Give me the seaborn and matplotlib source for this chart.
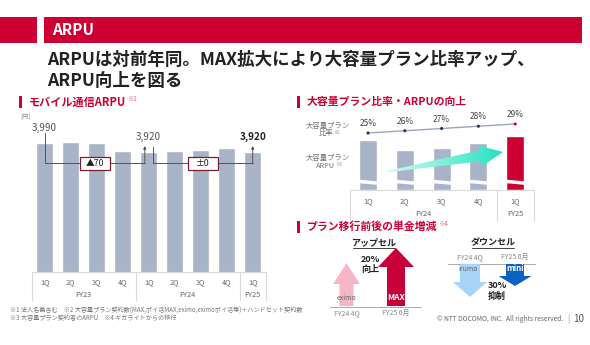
import numpy as np
import pandas as pd
import matplotlib
matplotlib.use("Agg")
import matplotlib.pyplot as plt
import seaborn as sns
from matplotlib.patches import Polygon, Rectangle
from matplotlib.colors import LinearSegmentedColormap

# ---------------- data ----------------
left_quarters = ["1Q", "2Q", "3Q", "4Q", "1Q", "2Q", "3Q", "4Q", "1Q"]
left_years = ["FY23", "FY23", "FY23", "FY23", "FY24", "FY24", "FY24", "FY24", "FY25"]
left_arpu = [3990, 4000, 3990, 3930, 3920, 3930, 3940, 3950, 3920]
left_labelled = [0, 4, 8]
left_diffs = ["▲70", "±0"]

right_quarters = ["1Q", "2Q", "3Q", "4Q", "1Q"]
right_years = ["FY24", "FY24", "FY24", "FY24", "FY25"]
plan_arpu_rel = [50, 40, 42, 47, 54]      # truncated-axis heights (relative)
plan_ratio = [25, 26, 27, 28, 29]         # %

upsell_periods = ["FY24 4Q", "FY25 6月"]
upsell_plans = ["eximo", "MAX"]
upsell_len = [43, 58]
downsell_periods = ["FY24 4Q", "FY25 6月"]
downsell_plans = ["irumo", "mini"]
downsell_len = [33, 22]

footnote1 = "※1 法人名義含む　※2 大容量プラン契約数(MAX,ポイ活MAX,eximo,eximoポイ活等)＋ハンドセット契約数"
footnote2 = "※3 大容量プラン契約者のARPU　※4 ギガライトからの移行"

# ---------------- style ----------------
sns.set_theme(style="white")
plt.rcParams["font.family"] = ["Noto Sans CJK JP", "DejaVu Sans"]

RED = "#cc0033"
SUPRED = "#e0607a"
BAR = "#aab4c8"
LINE = "#9aa6bf"
DARK = "#222222"
GRAY = "#666666"
SEP = "#d9d9d9"

W, H = 590, 345
fig = plt.figure(figsize=(W / 100, H / 100), dpi=100)


def px_axes(x0, y0, x1, y1):
    return fig.add_axes([x0 / W, 1 - y1 / H, (x1 - x0) / W, (y1 - y0) / H])


bg = px_axes(0, 0, W, H)
bg.set_xlim(0, W)
bg.set_ylim(H, 0)
bg.axis("off")


def T(x, y, s, size, color=DARK, weight="normal", ha="center", va="center", ax=None, **kw):
    ax = ax or bg
    kw.setdefault("zorder", 6)
    return ax.text(x, y, s, fontsize=size, color=color, fontweight=weight, ha=ha, va=va, **kw)


renderer = fig.canvas.get_renderer()


def sup_after(t, s, size, color, dy=-3, dx=0.0):
    bb = t.get_window_extent(renderer=renderer)
    x = bb.x1 + dx
    y = H - (bb.y1 + bb.y0) / 2 + dy
    return T(x, y, s, size, color, ha="left")


# ---------------- header ----------------
bg.add_patch(Rectangle((0, 17), 37, 26, color=RED, lw=0))
bg.add_patch(Rectangle((44, 17), 538, 26, color=RED, lw=0))
T(52, 30, "ARPU", 11, "white", "bold", ha="left")
T(47, 60, "ARPUは対前年同。MAX拡大により大容量プラン比率アップ、", 12.6, DARK, "bold", ha="left")
T(47, 81, "ARPU向上を図る", 12.6, DARK, "bold", ha="left")

# ---------------- left chart ----------------
bg.add_patch(Rectangle((19, 96), 3, 12, color=RED, lw=0))
t = T(29, 102, "モバイル通信ARPU", 8, RED, "bold", ha="left")
sup_after(t, "※1", 4.5, SUPRED, dy=-3, dx=0.5)
T(20, 118, "(円)", 4.5, "#888", ha="left")

LX0, LY0, LY1 = 31.7, 112, 272
KL = 8.0  # yen per pixel
LS = 26.0
ax_l = px_axes(LX0, LY0, LX0 + LS * len(left_arpu), LY1)
df_l = pd.DataFrame({"period": [f"{y} {q}" for y, q in zip(left_years, left_quarters)],
                     "arpu": left_arpu})
sns.barplot(data=df_l, x="period", y="arpu", color=BAR, saturation=1, width=0.66, ax=ax_l)
ax_l.set_xlim(-0.5, len(left_arpu) - 0.5)
ybot = min(left_arpu) - (LY1 - 152) * KL
ax_l.set_ylim(ybot, ybot + (LY1 - LY0) * KL)
ax_l.axis("off")
trl = ax_l.get_xaxis_transform()
fl = lambda p: -p / (LY1 - LY0)
ax_l.plot([-0.5, len(left_arpu) - 0.5], [0, 0], transform=trl, color=SEP, lw=0.8, clip_on=False)
for xs in [-0.5, 3.5, 7.5, 8.5]:
    ax_l.plot([xs, xs], [0, fl(28)], transform=trl, color=SEP, lw=0.8, clip_on=False)
for i, q in enumerate(left_quarters):
    ax_l.text(i, fl(10), q, transform=trl, ha="center", va="center", fontsize=5.3, color=GRAY)
for yr, (a, b) in {"FY23": (0, 3), "FY24": (4, 7), "FY25": (8, 8)}.items():
    ax_l.text((a + b) / 2, fl(23), yr, transform=trl, ha="center", va="center", fontsize=5.3, color=GRAY)

for k, i in enumerate(left_labelled):
    v = left_arpu[i]
    ax_l.text(i, v + 15 * KL, f"{v:,}", ha="center", va="center", fontsize=7.2,
              color=DARK if k == 2 else "#555", fontweight="bold" if k == 2 else "normal")

low = min(left_arpu) - 11 * KL
BR = "#555555"
segs = [(left_labelled[0], left_labelled[1] - 0.15, left_arpu[0] + 10 * KL),
        (left_labelled[1] + 0.15, left_labelled[2], left_arpu[4] + 5 * KL)]
box_w, box_h = 30 / LS, 13 * KL
for (xa, xb, ystart), lab in zip(segs, left_diffs):
    ax_l.plot([xa, xa, xb], [ystart, low, low], color=BR, lw=0.7, clip_on=False, zorder=4)
    ax_l.annotate("", xy=(xb, left_arpu[4] + 6 * KL), xytext=(xb, low),
                  arrowprops=dict(arrowstyle="-|>", color=BR, lw=0.7, mutation_scale=4,
                                  shrinkA=0, shrinkB=0), zorder=4)
    xm = (xa + xb) / 2
    ax_l.add_patch(Rectangle((xm - box_w / 2, low - box_h / 2), box_w, box_h, fc="white",
                             ec="#7a1f2e", lw=0.9, zorder=5, clip_on=False))
    ax_l.text(xm, low, lab, ha="center", va="center", fontsize=6.3, color=DARK, zorder=6)

# ---------------- right chart ----------------
bg.add_patch(Rectangle((297, 96), 3, 12, color=RED, lw=0))
T(307, 102, "大容量プラン比率・ARPUの向上", 7.8, RED, "bold", ha="left")
T(328, 126, "大容量プラン", 5.3, "#777")
t = T(326, 133.5, "比率", 5.3, "#777")
sup_after(t, "※2", 3.2, "#999", dy=-1.5, dx=0)
T(328, 158, "大容量プラン", 5.3, "#777")
t = T(326, 165.5, "ARPU", 5.3, "#777")
sup_after(t, "※3", 3.2, "#999", dy=-1.5, dx=0)

RX0, RY0, RY1, RS = 349.6, 100, 190, 36.8
ax_r = px_axes(RX0, RY0, RX0 + RS * len(plan_arpu_rel), RY1)
df_r = pd.DataFrame({"period": [f"{y} {q}" for y, q in zip(right_years, right_quarters)],
                     "arpu": plan_arpu_rel})
pal = [BAR] * 4 + [RED]
sns.barplot(data=df_r, x="period", y="arpu", hue="period", palette=pal, legend=False,
            saturation=1, width=0.49, ax=ax_r)
ax_r.set_xlim(-0.5, len(plan_arpu_rel) - 0.5)
ax_r.set_ylim(0, RY1 - RY0)
ax_r.axis("off")
for i in range(len(plan_arpu_rel)):
    xl, xr = i - 0.3, i + 0.3
    ax_r.add_patch(Polygon([(xl, 10.5), (xr, 8.5), (xr, 5.0), (xl, 7.0)], closed=True,
                           fc="white", ec="none", zorder=5))
trr = ax_r.get_xaxis_transform()
fr = lambda p: -p / (RY1 - RY0)
ax_r.plot([-0.5, 4.5], [0, 0], transform=trr, color=SEP, lw=0.8, clip_on=False)
for xs in [-0.5, 3.5, 4.5]:
    ax_r.plot([xs, xs], [0, fr(30)], transform=trr, color=SEP, lw=0.8, clip_on=False)
for i, q in enumerate(right_quarters):
    ax_r.text(i, fr(11), q, transform=trr, ha="center", va="center", fontsize=5.3, color=GRAY)
ax_r.text(1.5, fr(24.5), "FY24", transform=trr, ha="center", va="center", fontsize=5.3, color=GRAY)
ax_r.text(4, fr(24.5), "FY25", transform=trr, ha="center", va="center", fontsize=5.3, color=GRAY)

ax_t = ax_r.twinx()
ax_t.set_ylim(25 - 57 / 2.25, 25 + 33 / 2.25)
sns.lineplot(x=np.arange(len(plan_ratio)), y=plan_ratio, ax=ax_t, color=LINE, lw=1.0)
ax_t.scatter(np.arange(len(plan_ratio)), plan_ratio, s=5, c=["#333"] * 4 + [RED], zorder=4, lw=0)
for i, v in enumerate(plan_ratio):
    ax_t.annotate(f"{v}%", (i, v), xytext=(0, 6.8), textcoords="offset points",
                  ha="center", va="center", fontsize=6, color="#444")
ax_t.set_xlim(-0.5, len(plan_arpu_rel) - 0.5)
ax_t.axis("off")

# ---------------- bottom right ----------------
bg.add_patch(Rectangle((297, 221), 3, 12, color=RED, lw=0))
t = T(307, 227, "プラン移行前後の単金増減", 7.8, RED, "bold", ha="left")
sup_after(t, "※4", 4.5, SUPRED, dy=-3, dx=0.5)

T(374, 243, "アップセル", 6.5, DARK, "bold")
bg.plot([353, 395], [248, 248], color=DARK, lw=0.6)
T(493, 243, "ダウンセル", 6.5, DARK, "bold")
bg.plot([472, 514], [248, 248], color=DARK, lw=0.6)


def block_arrow(cx, base, length, shaft, head, head_len, color, up=True):
    s = -1 if up else 1
    tip = base + s * length
    sh = tip - s * head_len
    pts = [(cx - shaft / 2, base), (cx - shaft / 2, sh), (cx - head / 2, sh), (cx, tip),
           (cx + head / 2, sh), (cx + shaft / 2, sh), (cx + shaft / 2, base)]
    bg.add_patch(Polygon(pts, closed=True, fc=color, ec="none", zorder=3))


up_cx = [346.5, 396]
up_style = [(14, 27, 21, "#f7b6c7"), (18, 36, 19, "#c8003a")]
for cx, L, (sw, hw, hl, c) in zip(up_cx, upsell_len, up_style):
    block_arrow(cx, 306, L, sw, hw, hl, c, up=True)
bg.plot([330, 421], [306.5, 306.5], color="#aaaaaa", lw=0.7)
T(up_cx[0], 298, upsell_plans[0], 5, "#666")
T(up_cx[1], 298, upsell_plans[1], 6, "white", "bold")
for cx, p in zip(up_cx, upsell_periods):
    T(cx, 313, p, 5, "#888")
T(370, 260, "20%", 6.5, DARK, "bold")
T(370, 269, "向上", 6.5, DARK, "bold")

dn_cx = [470, 515]
dn_style = [(20, 34, 15, "#a9d3f7"), (18, 33, 10, "#0b63bf")]
for cx, L, (sw, hw, hl, c) in zip(dn_cx, downsell_len, dn_style):
    block_arrow(cx, 264, L, sw, hw, hl, c, up=False)
bg.plot([448, 535], [264, 264], color="#aaaaaa", lw=0.7)
for cx, p in zip(dn_cx, downsell_periods):
    T(cx, 257, p, 5, "#888")
T(dn_cx[0] - 2, 269, downsell_plans[0], 5, "#666")
T(dn_cx[1], 268.5, downsell_plans[1], 5.8, "white", "bold")
T(497, 286, "30%", 6.5, DARK, "bold")
T(497, 296, "抑制", 6.5, DARK, "bold")

# ---------------- footer ----------------
T(10, 309.5, footnote1, 4.4, "#777", ha="left")
T(10, 318.5, footnote2, 4.4, "#777", ha="left")
T(563, 319, "© NTT DOCOMO, INC.  All rights reserved.", 4.8, "#666", ha="right")
T(568, 319, "|", 6, "#888")
T(579, 319, "10", 7, "#555")

# ---------------- overlay: gradient arrow ----------------
ov = px_axes(0, 0, W, H)
ov.set_xlim(0, W)
ov.set_ylim(H, 0)
ov.axis("off")
ov.patch.set_alpha(0)
tail = np.array([388.0, 171.5])
tip = np.array([503.0, 152.0])
d = tip - tail
Lr = np.hypot(*d)
u = d / Lr
n = np.array([-u[1], u[0]])
hb = tip - u * 23
pts = [tail + n * 0.8, hb + n * 5.5, hb + n * 10.5, tip, hb - n * 10.5, hb - n * 5.5, tail - n * 0.8]
poly = Polygon(pts, closed=True, fc="none", ec="none")
ov.add_patch(poly)
cmap = LinearSegmentedColormap.from_list("teal", ["#d4f8f0", "#7cf0da", "#1fe2bf"])
im = ov.imshow(np.linspace(0, 1, 256).reshape(1, -1), cmap=cmap, aspect="auto",
               extent=(tail[0] - 2, tip[0] + 2, 180, 140), zorder=6)
im.set_clip_path(poly)
ov.set_xlim(0, W)
ov.set_ylim(H, 0)

fig.savefig("out.png", dpi=100)
